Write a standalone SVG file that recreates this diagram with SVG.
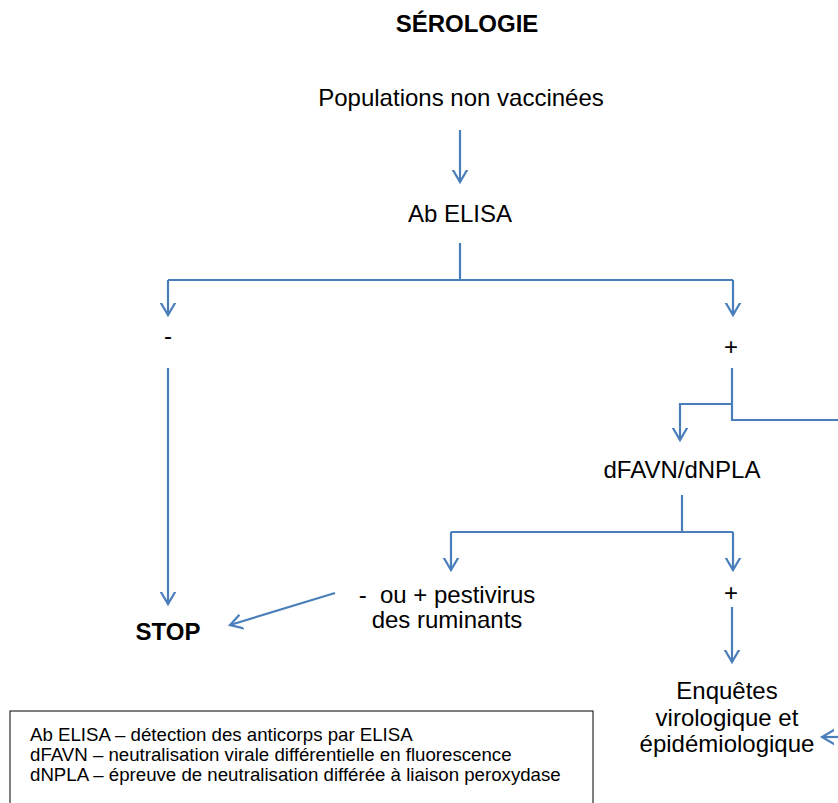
<svg xmlns="http://www.w3.org/2000/svg" width="838" height="803" viewBox="0 0 838 803">
<defs>
<style>
text{font-family:"Liberation Sans",Arial,sans-serif;fill:#000}
.t{font-size:24px;text-anchor:middle}
.b{font-weight:bold}
.lg{font-size:18.67px}
.c path{fill:none;stroke:#4a7ebb;stroke-width:2.2}
</style>
<marker id="ah" viewBox="-12 -12 24 24" markerWidth="24" markerHeight="24" markerUnits="userSpaceOnUse" orient="auto" refX="0" refY="0">
<path d="M-17,-10 L0,0 L-17,10" fill="none" stroke="#4a7ebb" stroke-width="2.2"/>
</marker>
</defs>
<rect width="838" height="803" fill="#fff"/>
<g id="title"><text class="t b" x="467" y="32">SÉROLOGIE</text></g>
<g id="n-pop"><text class="t" x="461" y="106">Populations non vaccinées</text></g>
<g id="n-elisa"><text class="t" x="460" y="222">Ab ELISA</text></g>
<g id="n-neg1"><text class="t" x="168" y="344">-</text></g>
<g id="n-pos1"><text class="t" x="731" y="355">+</text></g>
<g id="n-dfavn"><text class="t" x="682" y="478">dFAVN/dNPLA</text></g>
<g id="n-pesti"><text class="t" x="447" y="603" style="white-space:pre">-  ou + pestivirus</text><text class="t" x="447" y="628">des ruminants</text></g>
<g id="n-pos2"><text class="t" x="731" y="601">+</text></g>
<g id="n-stop"><text class="t b" x="168" y="640">STOP</text></g>
<g id="n-enq"><text class="t" x="727" y="699">Enquêtes</text><text class="t" x="727" y="726">virologique et</text><text class="t" x="727" y="752">épidémiologique</text></g>
<g id="connectors" class="c">
<path d="M460,130 V182" marker-end="url(#ah)"/>
<path d="M460,243 V280"/>
<path d="M168,280 H733"/>
<path d="M168,280 V315" marker-end="url(#ah)"/>
<path d="M733,280 V315" marker-end="url(#ah)"/>
<path d="M168,368 V604" marker-end="url(#ah)"/>
<path d="M732,368 V420 H840"/>
<path d="M732,404 H680 V440" marker-end="url(#ah)"/>
<path d="M682,495 V532"/>
<path d="M451,532 H733"/>
<path d="M451,532 V570" marker-end="url(#ah)"/>
<path d="M733,532 V570" marker-end="url(#ah)"/>
<path d="M335,593 L230,625" marker-end="url(#ah)"/>
<path d="M732,607 V662" marker-end="url(#ah)"/>
<path d="M840,737 H822" marker-end="url(#ah)"/>
</g>
<g id="legend">
<rect x="10" y="711" width="583" height="120" fill="none" stroke="#000" stroke-width="1"/>
<text class="lg" x="30" y="741">Ab ELISA – détection des anticorps par ELISA</text>
<text class="lg" x="30" y="761">dFAVN – neutralisation virale différentielle en fluorescence</text>
<text class="lg" x="30" y="781">dNPLA – épreuve de neutralisation différée à liaison peroxydase</text>
</g>
</svg>
